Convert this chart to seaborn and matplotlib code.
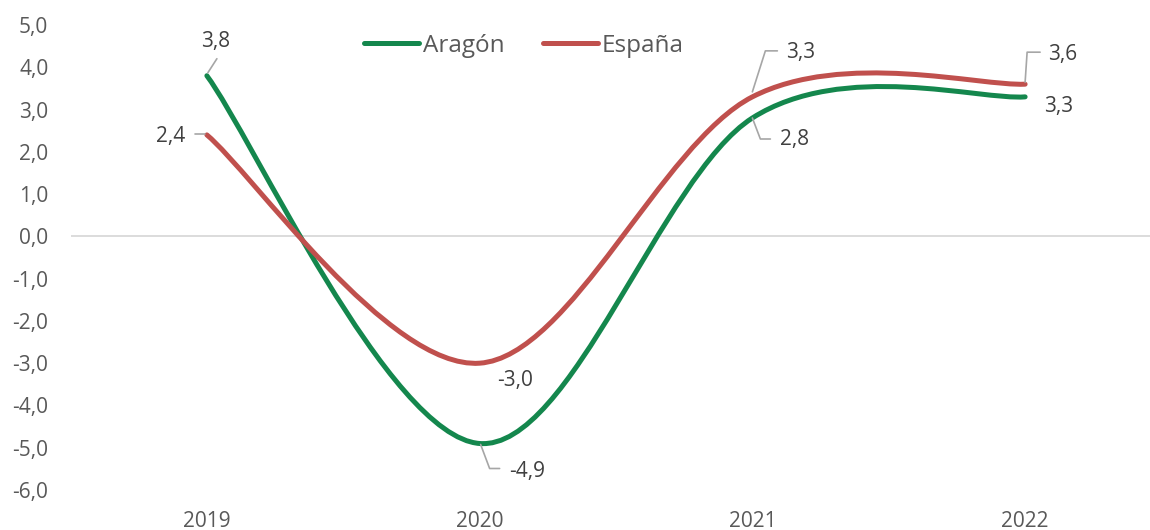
import numpy as np
import pandas as pd
import seaborn as sns
import matplotlib
matplotlib.use("Agg")
import matplotlib.pyplot as plt
from matplotlib.path import Path
from matplotlib.patches import PathPatch
from matplotlib.lines import Line2D
from matplotlib.ticker import FuncFormatter
import matplotlib.transforms as mtransforms

# Data
years = ["2019", "2020", "2021", "2022"]
aragon = [3.8, -4.9, 2.8, 3.3]
espana = [2.4, -3.0, 3.3, 3.6]

series_names = ["Aragón", "España"]
colors = {"Aragón": "#14874D", "España": "#C0504D"}

sns.set_theme(style="white")
plt.rcParams["font.family"] = ["Open Sans", "DejaVu Sans"]

fig = plt.figure(figsize=(11.5, 5.3), dpi=100)
ax = fig.add_axes([70.5 / 1150, 40 / 530, (1150 - 70.5) / 1150, 465 / 530])


def smooth_path(xs, ys):
    # Excel-like smoothed line: cubic Bezier segments through the points
    pts = np.column_stack([xs, ys]).astype(float)
    n = len(pts)
    verts = [pts[0]]
    codes = [Path.MOVETO]
    for i in range(n - 1):
        p_prev = pts[max(i - 1, 0)]
        p0 = pts[i]
        p1 = pts[i + 1]
        p_next = pts[min(i + 2, n - 1)]
        c1 = p0 + (p1 - p_prev) / 6
        c2 = p1 - (p_next - p0) / 6
        verts += [c1, c2, p1]
        codes += [Path.CURVE4] * 3
    return Path(verts, codes)


x = np.arange(len(years))
df = pd.DataFrame({"year": years, "Aragón": aragon, "España": espana})

ax.axhline(0, color="#D9D9D9", lw=1.3, zorder=1)

for name in series_names:
    patch = PathPatch(smooth_path(x, df[name].values), facecolor="none",
                      edgecolor=colors[name], lw=3.6, capstyle="round",
                      joinstyle="round", zorder=3)
    ax.add_patch(patch)

ax.set_xlim(-0.5, 3 + 125 / 273)
ax.set_ylim(-6, 5)
ax.set_xticks(x)
ax.set_xticklabels(years)
ax.set_yticks(np.arange(-6, 6, 1))
ax.yaxis.set_major_formatter(FuncFormatter(lambda v, p: f"{v:.1f}".replace(".", ",")))
ax.tick_params(axis="both", length=0, labelsize=15, labelcolor="#595959")
ax.tick_params(axis="y", pad=16)
ax.tick_params(axis="x", pad=15)
for s in ax.spines.values():
    s.set_visible(False)
ax.set_xlabel("")
ax.set_ylabel("")

# data labels: (series, index, label offset px, leader polyline px)
labels = [
    ("Aragón", 0, (9, 34), [(1, 3), (10, 17)]),
    ("España", 0, (-36, -2), [(-12, 1), (-2, 1)]),
    ("España", 1, (35, -17), None),
    ("Aragón", 1, (48, -28), [(1, -1), (10, -25), (20, -25)]),
    ("España", 2, (48, 44), [(0, 5), (13, 46), (25, 46)]),
    ("Aragón", 2, (42, -22), [(0, 0), (8, -21), (18, -21)]),
    ("España", 3, (38, 30), [(0, 2), (2, 32), (15, 32)]),
    ("Aragón", 3, (34, -10), None),
]

for name, i, off, leader in labels:
    val = df[name].iloc[i]
    ax.annotate(f"{val:.1f}".replace(".", ","), xy=(x[i], val),
                xytext=off, textcoords="offset pixels", ha="center", va="center",
                fontsize=15, color="#404040", zorder=5)
    if leader:
        tr = mtransforms.Affine2D() + mtransforms.ScaledTranslation(x[i], val, ax.transData)
        lx, ly = zip(*leader)
        ax.add_line(Line2D(lx, ly, transform=tr, color="#A6A6A6", lw=1.2, zorder=4))

handles = [Line2D([0], [0], color=colors[n], lw=3.6, solid_capstyle="round") for n in series_names]
fig.legend(handles, series_names, loc="center", bbox_to_anchor=(524 / 1150, 1 - 46 / 530),
           ncol=2, frameon=False, fontsize=17.5, handlelength=2.26, handletextpad=0.16,
           columnspacing=1.56, labelcolor="#595959")

fig.savefig("out.png", dpi=100)
